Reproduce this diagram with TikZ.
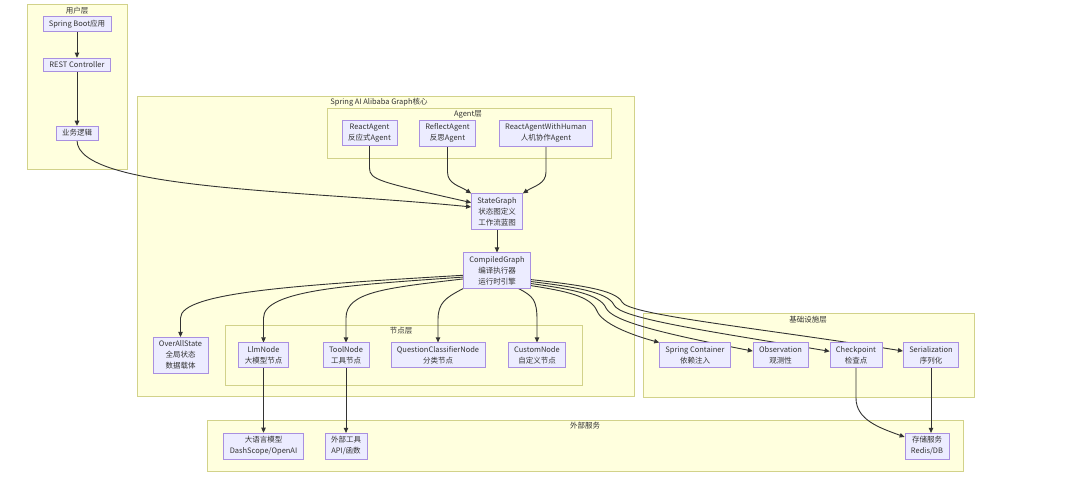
\documentclass[tikz,border=0pt]{standalone}
\usepackage{fontspec}
\setmainfont{Noto Sans CJK SC}
\usetikzlibrary{arrows.meta}
\newlength{\du}
\setlength{\du}{1pt}
\definecolor{clusterfill}{HTML}{FFFFDE}
\definecolor{clusterline}{HTML}{D2D28A}
\definecolor{boxfill}{HTML}{ECECFF}
\definecolor{boxline}{HTML}{A990E0}
\definecolor{wirecolor}{HTML}{333333}
\definecolor{labelcolor}{HTML}{333333}
\pgfdeclarelayer{clusters}
\pgfdeclarelayer{wires}
\pgfsetlayers{clusters,wires,main}
\tikzset{
  graphbox/.style={draw=boxline, fill=boxfill, line width=0.6pt, align=center,
    inner xsep=6pt, inner ysep=3.5pt, text=labelcolor, font=\fontsize{7.5}{11}\selectfont},
  layerbox/.style={draw=clusterline, fill=clusterfill, line width=0.6pt},
  layertitle/.style={text=labelcolor, inner sep=0pt, font=\fontsize{7.5}{9}\selectfont},
  wire/.style={draw=wirecolor, line width=0.9pt, -{Triangle[length=5pt,width=4.5pt]}},
}

\begin{document}
\begin{tikzpicture}
\pgftransformxscale{1.000000}
\pgftransformyscale{-1.000000}
\useasboundingbox (0.000000\du,0.000000\du) rectangle (1080.000000\du,493.000000\du);
% layers
\begin{pgfonlayer}{clusters}
\draw[layerbox] (27.000000\du,4.000000\du)--(27.000000\du,169.000000\du)--(127.000000\du,169.000000\du)--(127.000000\du,4.000000\du)--cycle;
\draw[layerbox] (137.000000\du,96.000000\du)--(137.000000\du,396.000000\du)--(634.000000\du,396.000000\du)--(634.000000\du,96.000000\du)--cycle;
\draw[layerbox] (327.000000\du,108.000000\du)--(327.000000\du,158.000000\du)--(611.000000\du,158.000000\du)--(611.000000\du,108.000000\du)--cycle;
\draw[layerbox] (225.000000\du,325.000000\du)--(225.000000\du,385.000000\du)--(582.000000\du,385.000000\du)--(582.000000\du,325.000000\du)--cycle;
\draw[layerbox] (643.000000\du,313.000000\du)--(643.000000\du,397.000000\du)--(974.000000\du,397.000000\du)--(974.000000\du,313.000000\du)--cycle;
\draw[layerbox] (207.000000\du,420.000000\du)--(207.000000\du,471.000000\du)--(963.000000\du,471.000000\du)--(963.000000\du,420.000000\du)--cycle;
\end{pgfonlayer}
\node[layertitle] (userTitle) at (77.000000\du,10.500000\du){用户层};
\node[layertitle] (coreTitle) at (379.000000\du,102.500000\du){Spring AI Alibaba Graph核心};
\node[layertitle] (agentTitle) at (468.000000\du,114.500000\du){Agent层};
\node[layertitle] (nodeTitle) at (401.000000\du,331.000000\du){节点层};
\node[layertitle] (infraTitle) at (808.000000\du,319.500000\du){基础设施层};
\node[layertitle] (extTitle) at (585.000000\du,426.000000\du){外部服务};
% user layer
\node[graphbox] (boot) at (77.000000\du,24.000000\du){Spring Boot应用};
\node[graphbox] (rest) at (77.000000\du,64.500000\du){REST Controller};
\node[graphbox] (logic) at (77.000000\du,133.000000\du){业务逻辑};
% agents
\node[graphbox] (ra) at (369.500000\du,133.000000\du){ReactAgent\\反应式Agent};
\node[graphbox] (rfa) at (447.500000\du,133.000000\du){ReflectAgent\\反思Agent};
\node[graphbox] (rah) at (546.000000\du,133.000000\du){ReactAgentWithHuman\\人机协作Agent};
% graph core
\node[graphbox] (sg) at (497.000000\du,211.500000\du){StateGraph\\状态图定义\\工作流蓝图};
\node[graphbox] (cg) at (497.000000\du,270.500000\du){CompiledGraph\\编译执行器\\运行时引擎};
\node[graphbox] (ovs) at (180.500000\du,355.000000\du){OverAllState\\全局状态\\数据载体};
\node[graphbox] (llm) at (263.500000\du,355.000000\du){LlmNode\\大模型节点};
\node[graphbox] (tool) at (346.000000\du,355.000000\du){ToolNode\\工具节点};
\node[graphbox] (qcn) at (438.000000\du,355.000000\du){QuestionClassifierNode\\分类节点};
\node[graphbox] (cn) at (537.000000\du,355.000000\du){CustomNode\\自定义节点};
% infrastructure
\node[graphbox] (sc) at (695.000000\du,355.000000\du){Spring Container\\依赖注入};
\node[graphbox] (obs) at (780.500000\du,355.000000\du){Observation\\观测性};
\node[graphbox] (cp) at (856.000000\du,355.000000\du){Checkpoint\\检查点};
\node[graphbox] (ser) at (931.000000\du,355.000000\du){Serialization\\序列化};
% external services
\node[graphbox] (llmext) at (263.500000\du,446.000000\du){大语言模型\\DashScope/OpenAI};
\node[graphbox] (toolext) at (346.000000\du,446.000000\du){外部工具\\API/函数};
\node[graphbox] (store) at (927.000000\du,446.000000\du){存储服务\\Redis/DB};
% connectors
\begin{pgfonlayer}{wires}
\draw[wire] (boot) -- (rest);
\draw[wire] (rest) -- (logic);
\draw[wire] (logic.south) .. controls (77.000000\du,190.000000\du) and (300.000000\du,190.000000\du) .. (sg.170);
\draw[wire] (ra.south) -- (369.500000\du,168.000000\du) .. controls (369.500000\du,180.000000\du) and (380.000000\du,182.000000\du) .. (sg.161);
\draw[wire] (rfa.south) -- (447.500000\du,172.000000\du) .. controls (447.500000\du,184.000000\du) and (460.000000\du,186.000000\du) .. (sg.north west);
\draw[wire] (rah.south) -- (546.000000\du,172.000000\du) .. controls (546.000000\du,184.000000\du) and (534.000000\du,186.000000\du) .. (sg.north east);
\draw[wire] (sg) -- (cg);
\draw[wire] (cg.188) .. controls (300.000000\du,285.000000\du) and (180.500000\du,292.000000\du) .. (180.500000\du,318.000000\du) -- (ovs.north);
\draw[wire] (cg.191) .. controls (350.000000\du,285.000000\du) and (263.500000\du,290.000000\du) .. (263.500000\du,318.000000\du) -- (llm.north);
\draw[wire] (cg.194) .. controls (385.000000\du,288.000000\du) and (346.000000\du,292.000000\du) .. (346.000000\du,318.000000\du) -- (tool.north);
\draw[wire] (cg.south west) .. controls (445.000000\du,298.000000\du) and (438.000000\du,303.000000\du) .. (438.000000\du,320.000000\du) -- (qcn.north);
\draw[wire] (cg.-40) .. controls (533.000000\du,296.000000\du) and (537.000000\du,300.000000\du) .. (537.000000\du,320.000000\du) -- (cn.north);
\draw[wire] (cg.-24) .. controls (565.000000\du,291.000000\du) and (591.000000\du,296.000000\du) .. (597.000000\du,311.000000\du) .. controls (602.000000\du,323.000000\du) and (628.000000\du,334.000000\du) .. (sc.north west);
\draw[wire] (cg.-21) .. controls (570.000000\du,289.000000\du) and (600.000000\du,294.000000\du) .. (606.000000\du,308.000000\du) .. controls (612.000000\du,321.000000\du) and (660.000000\du,333.000000\du) .. (obs.172);
\draw[wire] (cg.-18) .. controls (575.000000\du,287.000000\du) and (608.000000\du,292.000000\du) .. (614.000000\du,305.000000\du) .. controls (620.000000\du,318.000000\du) and (700.000000\du,330.000000\du) .. (cp.172);
\draw[wire] (cg.-15) .. controls (580.000000\du,285.000000\du) and (616.000000\du,290.000000\du) .. (622.000000\du,302.000000\du) .. controls (628.000000\du,315.000000\du) and (760.000000\du,328.000000\du) .. (ser.172);
\draw[wire] (llm.south) -- (llm.south |- llmext.north);
\draw[wire] (tool.south) -- (tool.south |- toolext.north);
\draw[wire] (cp.south) -- (856.000000\du,398.000000\du) .. controls (856.000000\du,420.000000\du) and (880.000000\du,428.000000\du) .. (store.158);
\draw[wire] (ser.south) -- (ser.south |- store.north);
\end{pgfonlayer}
\end{tikzpicture}
\end{document}
